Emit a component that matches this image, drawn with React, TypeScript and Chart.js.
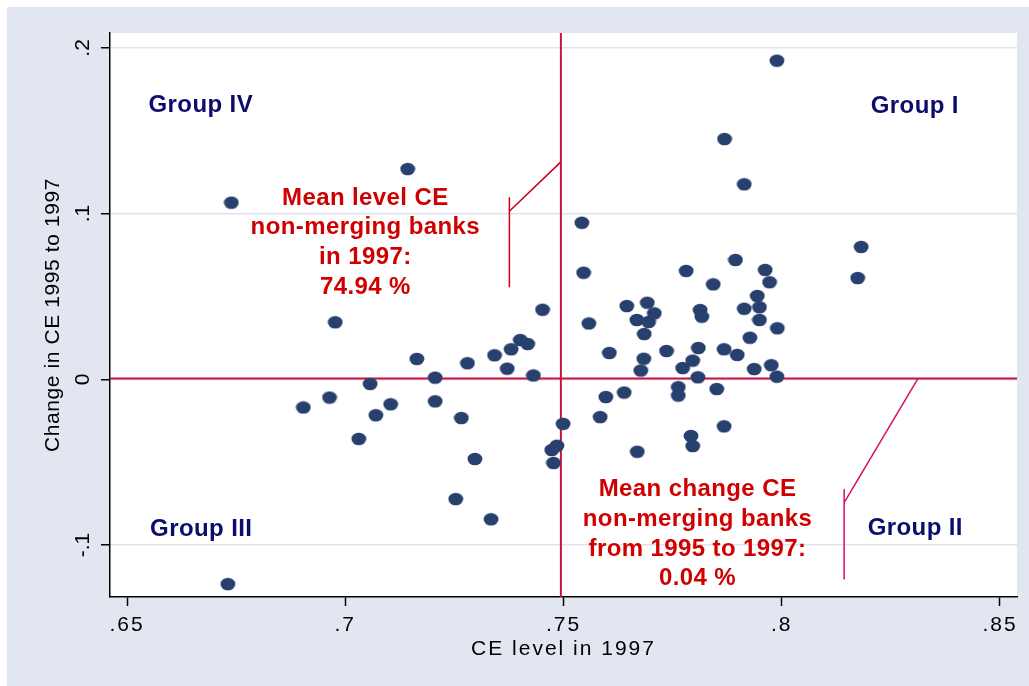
import { useEffect, useRef } from 'react';
import { Chart, registerables } from 'chart.js';

Chart.register(...registerables);

// CE level in 1997 (x) and change in CE 1995-1997 (y), one entry per bank
const ceLevel1997 = [
  0.6739, 0.6731, 0.7143, 0.6977, 0.6904, 0.6964, 0.7057, 0.7070, 0.7031, 0.7104,
  0.7164, 0.7206, 0.7206, 0.7266, 0.7253, 0.7297, 0.7280, 0.7342, 0.7371, 0.7380,
  0.7401, 0.7418, 0.7431, 0.7452, 0.7334, 0.7473, 0.7485, 0.7477, 0.7499, 0.7542,
  0.7546, 0.7558, 0.7584, 0.7597, 0.7605, 0.7645, 0.7639, 0.7669, 0.7668, 0.7692,
  0.7695, 0.7708, 0.7685, 0.7684, 0.7677, 0.7736, 0.7763, 0.7763, 0.7773, 0.7781,
  0.7796, 0.7792, 0.7796, 0.7809, 0.7813, 0.7817, 0.7808, 0.7843, 0.7851, 0.7869,
  0.7868, 0.7868, 0.7894, 0.7898, 0.7914, 0.7914, 0.7927, 0.7937, 0.7944, 0.7949,
  0.7949, 0.7962, 0.7972, 0.7990, 0.7989, 0.7989, 0.7976, 0.8174, 0.8182,
];
const ceChange9597 = [
  0.1066, -0.1236, 0.1269, 0.0344, -0.0170, -0.0110, -0.0028, -0.0217, -0.0360, -0.0151,
  0.0123, 0.0010, -0.0133, -0.0234, -0.0723, -0.0481, 0.0097, 0.0145, 0.0064, 0.0181,
  0.0237, 0.0213, 0.0023, 0.0420, -0.0845, -0.0427, -0.0401, -0.0505, -0.0269, 0.0945,
  0.0643, 0.0337, -0.0228, -0.0107, 0.0159, 0.0442, -0.0080, -0.0437, 0.0358, 0.0462,
  0.0346, 0.0398, 0.0273, 0.0124, 0.0053, 0.0171, -0.0048, -0.0098, 0.0068, 0.0654,
  0.0113, -0.0342, -0.0403, 0.0189, 0.0418, 0.0378, 0.0012, 0.0573, -0.0059, 0.1450,
  0.0181, -0.0284, 0.0720, 0.0147, 0.1177, 0.0426, 0.0251, 0.0062, 0.0503, 0.0435,
  0.0358, 0.0660, 0.0586, 0.0308, 0.1923, 0.0016, 0.0085, 0.0611, 0.0799,
];

const xTicks = [0.65, 0.7, 0.75, 0.8, 0.85];
const yTicks = [-0.1, 0, 0.1, 0.2];
const xRange = [0.6461, 0.8539];
const yRange = [-0.1314, 0.209];

const meanLevel = 0.7494;
const meanChange = 0.0004;

const groupLabels = ['Group I', 'Group II', 'Group III', 'Group IV'];
const groupX = [0.8305, 0.8306, 0.667, 0.6669];
const groupY = [0.165, -0.0898, -0.0904, 0.1656];

const note1Lines = ['Mean level CE', 'non-merging banks', 'in 1997:', '74.94 %'];
const note1X = 0.7046;
const note1Y = 0.1094;
const note2Lines = ['Mean change CE', 'non-merging banks', 'from 1995 to 1997:', '0.04 %'];
const note2X = 0.7807;
const note2Y = -0.0665;

const leader1StemX = [0.7376, 0.7376];
const leader1StemY = [0.1099, 0.0556];
const leader1ArmX = [0.7376, 0.7494];
const leader1ArmY = [0.1014, 0.1312];
const leader2StemX = [0.8143, 0.8143];
const leader2StemY = [-0.0662, -0.1208];
const leader2ArmX = [0.8143, 0.8312];
const leader2ArmY = [-0.0745, 0.0004];

const FONT = "'Liberation Sans', Arial, Helvetica, sans-serif";
const BG = '#e1e6f0';
const GRID = '#dfe3ee';
const NAVY = '#27406e';
const GROUP_COLOR = '#0c0c6c';
const NOTE_COLOR = '#d00000';
const REF_COLOR = '#cc1040';

const fmt = (v: number) => {
  if (v === 0) return '0';
  const s = String(Math.abs(v)).replace(/^0/, '');
  return (v < 0 ? '-' : '') + s;
};

export default function App() {
  const ref = useRef<HTMLCanvasElement>(null);

  useEffect(() => {
    const canvas = ref.current!;
    const dot = document.createElement('canvas');
    dot.width = 16;
    dot.height = 14;
    const dctx = dot.getContext('2d')!;
    dctx.fillStyle = NAVY;
    dctx.beginPath();
    dctx.ellipse(8, 7, 7.4, 6.3, 0, 0, Math.PI * 2);
    dctx.fill();

    const lineDs = (xs: number[], ys: number[], color: string, width: number) => ({
      type: 'scatter' as const,
      data: xs.map((x, i) => ({ x, y: ys[i] })),
      showLine: true,
      borderColor: color,
      backgroundColor: color,
      borderWidth: width,
      pointRadius: 0,
      pointHoverRadius: 0,
      fill: false,
    });

    const decor = {
      id: 'decor',
      beforeDraw(chart: any) {
        const { ctx, chartArea: a } = chart;
        ctx.save();
        ctx.fillStyle = BG;
        ctx.fillRect(0, 0, chart.width, chart.height);
        ctx.fillStyle = '#ffffff';
        ctx.fillRect(a.left, a.top, a.right - a.left, a.bottom - a.top);
        ctx.restore();
        ctx.letterSpacing = '2px';
      },
      afterDatasetsDraw(chart: any) {
        const { ctx, chartArea: a } = chart;
        const xs = chart.scales.x;
        const ys = chart.scales.y;
        ctx.save();
        ctx.letterSpacing = '0px';
        ctx.fillStyle = '#000';
        ctx.font = `21px ${FONT}`;
        ctx.textAlign = 'center';
        ctx.textBaseline = 'middle';
        for (const t of ys.ticks) {
          const py = ys.getPixelForValue(t.value);
          ctx.save();
          ctx.translate(76, py);
          ctx.rotate(-Math.PI / 2);
          ctx.fillText(fmt(t.value), 0, 0);
          ctx.restore();
        }
        ctx.save();
        ctx.letterSpacing = '0.6px';
        ctx.translate(46, (a.top + a.bottom) / 2);
        ctx.rotate(-Math.PI / 2);
        ctx.fillText('Change in CE 1995 to 1997', 0, 0);
        ctx.restore();

        ctx.font = `bold 24px ${FONT}`;
        ctx.letterSpacing = '0.4px';
        ctx.fillStyle = GROUP_COLOR;
        groupLabels.forEach((g, i) => {
          ctx.fillText(g, xs.getPixelForValue(groupX[i]), ys.getPixelForValue(groupY[i]));
        });
        ctx.fillStyle = NOTE_COLOR;
        const drawNote = (lines: string[], nx: number, ny: number) => {
          const px = xs.getPixelForValue(nx);
          const py = ys.getPixelForValue(ny);
          lines.forEach((l, i) => ctx.fillText(l, px, py + i * 29.8));
        };
        drawNote(note1Lines, note1X, note1Y);
        drawNote(note2Lines, note2X, note2Y);
        ctx.restore();
      },
      afterDraw(chart: any) {
        chart.ctx.letterSpacing = '0px';
      },
    };

    const chart = new Chart(canvas, {
      type: 'scatter',
      data: {
        datasets: [
          {
            data: ceLevel1997.map((x, i) => ({ x, y: ceChange9597[i] })),
            pointStyle: dot as any,
            pointRadius: 7,
            backgroundColor: NAVY,
            borderColor: NAVY,
          },
          lineDs([meanLevel, meanLevel], [yRange[0], yRange[1]], REF_COLOR, 2),
          lineDs([xRange[0], xRange[1]], [meanChange, meanChange], REF_COLOR, 2),
          lineDs(leader1StemX, leader1StemY, '#cc0010', 1.5),
          lineDs(leader1ArmX, leader1ArmY, '#cc0010', 1.5),
          lineDs(leader2StemX, leader2StemY, '#d0106a', 1.5),
          lineDs(leader2ArmX, leader2ArmY, '#d0106a', 1.5),
        ] as any,
      },
      options: {
        responsive: false,
        animation: false,
        devicePixelRatio: 1,
        layout: { padding: { top: 26, right: 12, left: 0, bottom: 0 } },
        plugins: { legend: { display: false }, tooltip: { enabled: false } },
        events: [],
        scales: {
          x: {
            type: 'linear',
            min: xRange[0],
            max: xRange[1],
            afterBuildTicks: (s: any) => {
              s.ticks = xTicks.map((v) => ({ value: v }));
            },
            afterFit: (s: any) => {
              s.height = 89;
            },
            ticks: {
              callback: (v: any) => fmt(Number(v)),
              font: { family: FONT, size: 21 },
              color: '#000',
              padding: 7,
              autoSkip: false,
              maxRotation: 0,
            },
            grid: { drawOnChartArea: false, tickLength: 9, tickColor: '#000', tickWidth: 1.5 },
            border: { color: '#000', width: 1.5 },
            title: {
              display: true,
              text: 'CE level in 1997',
              font: { family: FONT, size: 21 },
              color: '#000',
              padding: { top: 0, bottom: 24 },
            },
          },
          y: {
            type: 'linear',
            min: yRange[0],
            max: yRange[1],
            afterBuildTicks: (s: any) => {
              s.ticks = yTicks.map((v) => ({ value: v }));
            },
            afterFit: (s: any) => {
              s.width = 103;
            },
            ticks: { display: false },
            grid: { color: GRID, lineWidth: 1.5, tickLength: 9, tickColor: '#000', tickWidth: 1.5 },
            border: { color: '#000', width: 1.5 },
          },
        },
      } as any,
      plugins: [decor],
    });
    return () => chart.destroy();
  }, []);

  return (
    <div style={{ position: 'absolute', left: 7, top: 7, width: 1022, height: 679 }}>
      <canvas ref={ref} width={1022} height={679} style={{ display: 'block' }} />
    </div>
  );
}
